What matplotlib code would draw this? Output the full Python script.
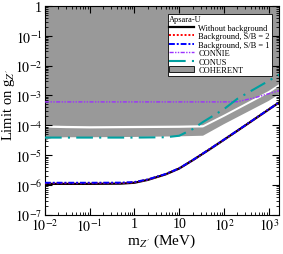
import matplotlib
matplotlib.use("Agg")
import matplotlib.pyplot as plt
import numpy as np
from matplotlib.ticker import FixedLocator, LogLocator, NullFormatter
from matplotlib.lines import Line2D
from matplotlib.patches import Patch

plt.rcParams['font.family'] = ['Liberation Serif', 'DejaVu Serif']
plt.rcParams['mathtext.fontset'] = 'stix'

# Apsara-U sensitivity (MeV, g_Z')
m_aps = [0.01, 0.1, 0.5, 1, 2, 5, 10, 20, 50, 100, 300, 1000, 1700]
g_nobg = [1.1e-6, 1.1e-6, 1.12e-6, 1.2e-6, 1.5e-6, 2.3e-6, 3.6e-6, 6.8e-6, 1.65e-5, 3.3e-5, 1.0e-4, 3.4e-4, 5.8e-4]
g_sb2 = [1.16e-6, 1.16e-6, 1.17e-6, 1.24e-6, 1.53e-6, 2.33e-6, 3.63e-6, 6.85e-6, 1.66e-5, 3.32e-5, 1.0e-4, 3.42e-4, 5.85e-4]
g_sb1 = [1.2e-6, 1.2e-6, 1.21e-6, 1.27e-6, 1.56e-6, 2.36e-6, 3.66e-6, 6.9e-6, 1.67e-5, 3.34e-5, 1.01e-4, 3.44e-4, 5.9e-4]

# CONNIE
m_connie = [0.01, 1, 10, 100, 200, 500, 1000, 1700]
g_connie = [6.1e-4, 6.1e-4, 6.1e-4, 6.1e-4, 6.2e-4, 8.5e-4, 1.15e-3, 1.45e-3]

# CONUS
m_conus = [0.01, 0.1, 1, 5, 10, 20, 34, 100, 200, 1000, 1700]
g_conus = [3.9e-5, 3.9e-5, 3.9e-5, 4.0e-5, 4.5e-5, 7.5e-5, 1.3e-4, 3.5e-4, 7.8e-4, 3.1e-3, 5.0e-3]

# COHERENT excluded region (lower edge) and white gap inside it
m_coh = [0.01, 0.012, 0.015, 0.03, 0.1, 1, 10, 34, 100, 1000, 1700]
g_coh_low = [2.8e-5, 3.5e-5, 3.9e-5, 4.0e-5, 4.0e-5, 4.1e-5, 4.3e-5, 4.5e-5, 1.1e-4, 6.6e-4, 1.1e-3]
g_gap = [9.5e-5, 9.2e-5, 9.0e-5, 8.8e-5, 8.6e-5, 8.8e-5, 9.0e-5, 9.3e-5, 2.1e-4, 1.3e-3, 2.2e-3]

fig = plt.figure(figsize=(2.83, 2.55), dpi=100)
ax = fig.add_axes([0.159, 0.153, 0.827, 0.82])

gap = np.array(g_gap)
ax.fill_between(m_coh, g_coh_low, 1.0, facecolor='#999999', edgecolor='none', zorder=1)
ax.fill_between(m_coh, gap / 1.09, gap * 1.09, facecolor='white', edgecolor='none', zorder=1.5)

ax.plot(m_connie, g_connie, color='#9b30ff', lw=1.0, ls=(0, (3, 1, 1, 1, 1, 1)), zorder=3)
ax.plot(m_conus, g_conus, color='#00a0a0', lw=1.5, ls=(0, (8, 3, 1, 3)), zorder=3)
ax.plot(m_aps, g_nobg, color='black', lw=1.6, zorder=4)
ax.plot(m_aps, g_sb2, color='red', lw=1.4, ls=(0, (1, 1)), zorder=5)
ax.plot(m_aps, g_sb1, color='blue', lw=1.4, ls=(0, (3, 1, 1, 1)), zorder=5)

ax.set_xscale('log')
ax.set_yscale('log')
ax.set_xlim(0.01, 1700)
ax.set_ylim(1e-7, 1)

xt = [1e-2, 1e-1, 1, 10, 1e2, 1e3]
xl = [r'$10^{-2}$', r'$10^{-1}$', '1', '10', r'$10^{2}$', r'$10^{3}$']
yt = [1e-7, 1e-6, 1e-5, 1e-4, 1e-3, 1e-2, 1e-1, 1]
yl = [r'$10^{-7}$', r'$10^{-6}$', r'$10^{-5}$', r'$10^{-4}$', r'$10^{-3}$', r'$10^{-2}$', r'$10^{-1}$', '1']
ax.xaxis.set_major_locator(FixedLocator(xt))
ax.set_xticklabels(xl)
ax.yaxis.set_major_locator(FixedLocator(yt))
ax.set_yticklabels(yl)
for a in (ax.xaxis, ax.yaxis):
    a.set_minor_locator(LogLocator(base=10, subs=np.arange(2, 10), numticks=20))
    a.set_minor_formatter(NullFormatter())
ax.tick_params(which='both', direction='in', top=True, right=True, labelsize=10)
ax.tick_params(axis='x', pad=1.5)
ax.tick_params(axis='y', pad=2)
ax.tick_params(which='major', length=5)
ax.tick_params(which='minor', length=2.5)

ax.set_xlabel(r"m$_{Z^{\prime}}$ (MeV)", fontsize=11)
ax.set_ylabel(r"Limit on g$_{Z^{\prime}}$", fontsize=10.5)
ax.xaxis.set_label_coords(0.5, -0.08)
ax.yaxis.set_label_coords(-0.12, 0.53)

handles = [
    Line2D([], [], color='black', lw=1.6),
    Line2D([], [], color='red', lw=1.4, ls=(0, (1, 1))),
    Line2D([], [], color='blue', lw=1.4, ls=(0, (3, 1, 1, 1))),
    Line2D([], [], color='#9b30ff', lw=1.0, ls=(0, (3, 1, 1, 1, 1, 1))),
    Line2D([], [], color='#00a0a0', lw=1.5, ls=(0, (8, 3, 1, 3))),
    Patch(facecolor='#999999', edgecolor='black', lw=0.6),
]
labels = ['Without background', 'Background, S/B = 2', 'Background, S/B = 1',
          'CONNIE', 'CONUS', 'COHERENT']
leg = ax.legend(handles, labels, title='Apsara-U', loc='upper right',
                bbox_to_anchor=(0.975, 0.97), fontsize=6, title_fontsize=6,
                frameon=True, fancybox=False, framealpha=1, edgecolor='black',
                borderpad=0.2, labelspacing=0.05, handlelength=3.0,
                handletextpad=0.5, borderaxespad=0.2, alignment='left')
leg.get_frame().set_linewidth(0.6)
leg.set_zorder(10)

fig.savefig('out.png', dpi=100)
